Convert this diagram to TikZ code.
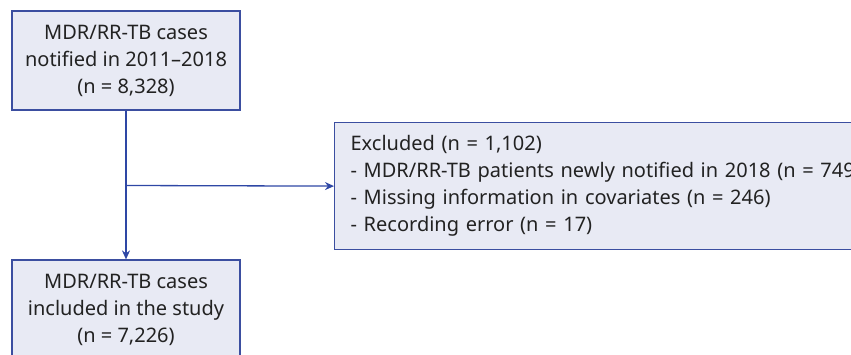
\documentclass[tikz,border=0pt]{standalone}
\usepackage{fontspec}
\setmainfont{Noto Sans}
\usetikzlibrary{arrows.meta}
\definecolor{boxfill}{HTML}{E8EAF4}
\definecolor{boxline}{HTML}{3B4EA0}
\definecolor{arrowcol}{HTML}{2E47A5}
\definecolor{txt}{HTML}{222222}
\begin{document}
\begin{tikzpicture}[x=1pt,y=1pt,
  box/.style={draw=boxline,fill=boxfill,line width=1.2pt,text=txt,font=\fontsize{20}{27}\selectfont},
  conn/.style={draw=arrowcol,line width=1.3pt,-{Stealth[length=9pt,width=8pt]}}]
\useasboundingbox (0,0) rectangle (851,354);
\clip (0,0) rectangle (851,354);
\node[box,minimum width=228pt,minimum height=99pt,align=center] (top) at (126,293.5)
  {MDR/RR-TB cases\\notified in 2011--2018\\(n = 8,328)};
\node[box,minimum width=228pt,minimum height=99pt,align=center] (bot) at (126,44.5)
  {MDR/RR-TB cases\\included in the study\\(n = 7,226)};
\node[box,anchor=north west,minimum height=127pt,text width=560pt,inner xsep=16pt,align=left] (exc) at (334,232)
  {Excluded (n = 1,102)\\- MDR/RR-TB patients newly notified in 2018 (n = 749)\\- Missing information in covariates (n = 246)\\- Recording error (n = 17)};
\coordinate (j) at (126,168.5);
\draw[conn] (top.south) -- (bot.north);
\draw[conn] (j) -- (exc.west);
\end{tikzpicture}
\end{document}
